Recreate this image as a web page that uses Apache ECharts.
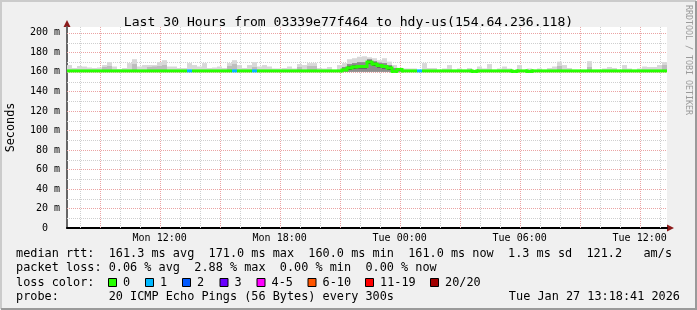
<!DOCTYPE html>
<html><head><meta charset="utf-8">
<script src="https://cdn.jsdelivr.net/npm/echarts@6/dist/echarts.min.js"></script>
<style>html,body{margin:0;padding:0;background:#f0f0f0;}#c{width:697px;height:310px;}</style>
</head><body><div id="c"></div>
<script>
// ---------- data ----------
const titleText = 'Last 30 Hours from 03339e77f464 to hdy-us(154.64.236.118)';
const startHour = 7 + 22 / 60;   // Mon 07:22 (hours since Mon 00:00)
const spanHours = 30;
const binHours = 0.25;           // one value per 15 minutes
const xTickHours = [12, 18, 24, 30, 36];
const xTickLabels = ['Mon 12:00', 'Mon 18:00', 'Tue 00:00', 'Tue 06:00', 'Tue 12:00'];
const yTickValues = [0, 20, 40, 60, 80, 100, 120, 140, 160, 180, 200];
const yTickLabels = ['0  ', '20 m', '40 m', '60 m', '80 m', '100 m', '120 m', '140 m', '160 m', '180 m', '200 m'];

// median rtt (ms), 120 bins
const median = [
  161,161,161,161,161,161,161,161,161,161,
  161,161,161,161,161,161,161,161,161,161,
  161,161,161,161,161,161,161,161,161,161,
  161,161,161,161,161,161,161,161,161,161,
  161,161,161,161,161,161,161,161,161,161,
  161,161,161,161,161,162,164,165,165.5,165.5,
  170,168,166.5,165.5,164,160.5,162.5,161,161,161,
  161,161,161,161,161,161,161,161,161,161,
  161,160.5,161,161,161,161,161,161,161,160.5,
  161,161,160.5,161,161,161,161,161,161,161,
  161,161,161,161,161,161,161,161,161,161,
  161,161,161,161,161,161,161,161,161,161
];
// lost pings (of 20) per bin
const loss = [
  0,0,0,0,0,0,0,0,0,0, 0,0,0,0,0,0,0,0,0,0,
  0,0,0,0,1,0,0,0,0,0, 0,0,0,1,0,0,0,1,0,0,
  0,0,0,0,0,0,0,0,0,0, 0,0,0,0,0,0,0,0,0,0,
  0,0,0,0,0,0,0,0,0,0, 1,0,0,0,0,0,0,0,0,0,
  0,0,0,0,0,0,0,0,0,0, 0,0,0,0,0,0,0,0,0,0,
  0,0,0,0,0,0,0,0,0,0, 0,0,0,0,0,0,0,0,0,0
];
// smoke: slowest ping per bin (ms)
const smokeHi = [
  167,164,166,165.5,164.5,164,164.5,167,170,165.5,
  163,164,169,173,165.5,167,167,167,170,172,
  165.5,165.5,164,164,169,167,165.5,169,164,164.5,
  165.5,164,169,172,167,164,167,170,165.5,167,
  165.5,163.5,163.5,164,165.5,163.5,168,167,169,169,
  164,163.5,165,162,167,169,173,174,175.5,176,
  175,174,172,174,170.5,167,164,163.5,163.5,163.5,
  162,169,164,164,162,163.5,167,162,163.5,162,
  164,162,165.5,163.5,168,162,163.5,165.5,163.5,162,
  167,162,163.5,162,163.5,162,164,165.5,170.5,167,
  164,162,161.5,161.5,171,162,162,163.5,165,164,
  162,167,163.5,162,163.5,165.5,165,165,167,170
];
// smoke: denser middle part of the pings (ms), null where not visible
const smokeMid = [
  null,null,null,null,null,null,null,165,166,null,
  null,null,null,168,null,null,165,165.5,166,167,
  null,null,null,null,null,null,null,null,null,null,
  null,null,166,168,null,null,null,165,null,null,
  null,null,null,null,null,null,165,null,166,166,
  null,null,null,null,null,null,null,null,null,null,
  null,null,null,null,null,null,null,null,null,null,
  null,null,null,null,null,null,null,null,null,null,
  null,null,null,null,null,null,null,null,null,null,
  null,null,null,null,null,null,null,null,166,null,
  null,null,null,null,165,null,null,null,null,null,
  null,null,null,null,null,null,null,null,null,167
];
// busy period (bins 55..66): dense smoke band and darkest core around the median (ms)
const busyBins = [55, 56, 57, 58, 59, 60, 61, 62, 63, 64, 65, 66];
const busyMid  = [165, 168, 169, 170, 170, 173, 171, 169.5, 169, 167, 164, 163];
const coreLo   = [161, 162, 163, 163.5, 163.5, 168, 166, 164.5, 163.5, 162, 160, 161];
const coreHi   = [163, 165.5, 166.5, 167, 167, 171.5, 169.5, 168, 167, 165.5, 162, 164];

const lossLabels = ['0', '1', '2', '3', '4-5', '6-10', '11-19', '20/20'];
const lossColors = ['#26ff00', '#00b8ff', '#0059ff', '#6a00ff', '#ff00ff', '#ff5500', '#ff0000', '#a10000'];
const statLines = [
  'median rtt:  161.3 ms avg  171.0 ms max  160.0 ms min  161.0 ms now  1.3 ms sd  121.2   am/s',
  'packet loss: 0.06 % avg  2.88 % max  0.00 % min  0.00 % now',
  'loss color:',
  'probe:       20 ICMP Echo Pings (56 Bytes) every 300s'
];
const stampText = 'Tue Jan 27 13:18:41 2026';
const sideText = 'RRDTOOL / TOBI OETIKER';

// ---------- chart ----------
const MONO = '"DejaVu Sans Mono", monospace';
const chart = echarts.init(document.getElementById('c'), null, {renderer: 'canvas'});

const binX = i => startHour + i * binHours;
const hiData = smokeHi.map((v, i) => [binX(i), 160, v]);
const midData = [];
smokeMid.forEach((v, i) => { if (v != null) midData.push([binX(i), 160, v]); });
const busyData = busyBins.map((b, k) => [binX(b), 160, busyMid[k]]);
const coreData = busyBins.map((b, k) => [binX(b), coreLo[k], coreHi[k]]);
const medData = median.map((v, i) => [binX(i), v, loss[i]]);

function rectRender(color) {
  return function (params, api) {
    const x = api.value(0), lo = api.value(1), hi = api.value(2);
    const p0 = api.coord([x, hi]);
    const p1 = api.coord([x + binHours, lo]);
    return {type: 'rect', shape: {x: p0[0], y: p0[1], width: p1[0] - p0[0], height: p1[1] - p0[1]},
            style: {fill: color}};
  };
}

// grid line positions (axis layout)
const vLines = [];
for (let h = Math.ceil(startHour); h <= startHour + spanHours; h++) vLines.push([h, 0, h % 3 === 0 ? 1 : 0]);
const hLines = [];
for (let v = 10; v <= 200; v += 10) hLines.push([startHour, v, v % 20 === 0 ? 1 : 0]);
const MINOR = '#cfcfcf', MAJOR = '#eba3a3';

const option = {
  backgroundColor: '#f0f0f0',
  animation: false,
  title: {
    text: titleText, left: 'center', top: 11,
    textStyle: {fontFamily: MONO, fontSize: 13.1, fontWeight: 'normal', color: '#000'}
  },
  grid: {left: 67, right: 30, top: 27, bottom: 82, containLabel: false, outerBoundsMode: 'none',
         show: true, backgroundColor: '#ffffff', borderWidth: 0},
  xAxis: {
    type: 'value', min: startHour, max: startHour + spanHours,
    axisLine: {show: true, onZero: false, lineStyle: {color: '#000', width: 2}},
    axisTick: {show: false},
    splitLine: {show: false},
    axisLabel: {
      customValues: xTickHours,
      formatter: v => xTickLabels[xTickHours.indexOf(v)],
      margin: 5, fontFamily: MONO, fontSize: 10, color: '#000',
      showMinLabel: true, showMaxLabel: true
    }
  },
  yAxis: {
    type: 'value', min: 0, max: 206,
    name: 'Seconds', nameLocation: 'middle', nameGap: 50,
    nameTextStyle: {fontFamily: MONO, fontSize: 11.8, color: '#000'},
    axisLine: {show: true, lineStyle: {color: '#666', width: 2}},
    axisTick: {show: false},
    splitLine: {show: false},
    axisLabel: {
      customValues: yTickValues,
      formatter: v => yTickLabels[yTickValues.indexOf(v)],
      margin: 7, fontFamily: MONO, fontSize: 10, color: '#000'
    }
  },
  series: [
    { // grid: vertical
      type: 'custom', silent: true, z: 1, data: vLines,
      renderItem: (params, api) => {
        const cs = params.coordSys;
        const x = Math.round(api.coord([api.value(0), 0])[0]) + 0.5;
        return {type: 'line', shape: {x1: x, y1: cs.y, x2: x, y2: cs.y + cs.height},
                style: {stroke: api.value(2) ? MAJOR : MINOR, lineWidth: 1, lineDash: [1, 1]}};
      }
    },
    { // grid: horizontal
      type: 'custom', silent: true, z: 1, data: hLines,
      renderItem: (params, api) => {
        const cs = params.coordSys;
        const y = Math.round(api.coord([startHour, api.value(1)])[1]) + 0.5;
        return {type: 'line', shape: {x1: cs.x, y1: y, x2: cs.x + cs.width, y2: y},
                style: {stroke: api.value(2) ? MAJOR : MINOR, lineWidth: 1, lineDash: [1, 1]}};
      }
    },
    {type: 'custom', silent: true, z: 2, data: hiData, renderItem: rectRender('#d8d8d8')},
    {type: 'custom', silent: true, z: 3, data: midData, renderItem: rectRender('#bdbdbd')},
    {type: 'custom', silent: true, z: 3, data: busyData, renderItem: rectRender('#8c8c8c')},
    {type: 'custom', silent: true, z: 4, data: coreData, renderItem: rectRender('#383838')},
    { // median line coloured by loss
      type: 'custom', silent: true, z: 5, data: medData,
      renderItem: (params, api) => {
        const i = params.dataIndex;
        const x = api.value(0), m = api.value(1), l = api.value(2);
        const a = api.coord([x, m]), b = api.coord([x + binHours, m]);
        const col = lossColors[l];
        const kids = [{type: 'rect', shape: {x: a[0], y: a[1] - 1.5, width: b[0] - a[0], height: 3}, style: {fill: col}}];
        if (i + 1 < median.length && median[i + 1] !== m) {
          const c = api.coord([x + binHours, median[i + 1]]);
          const top = Math.min(b[1], c[1]) - 1.5, h = Math.abs(c[1] - b[1]) + 3;
          kids.push({type: 'rect', shape: {x: b[0] - 1.5, y: top, width: 3, height: h}, style: {fill: col}});
        }
        return {type: 'group', children: kids};
      }
    }
  ],
  graphic: []
};

// decorations: border, arrows, side text, legend
const g = option.graphic;
g.push({type: 'polyline', silent: true, shape: {points: [[1, 309], [1, 1], [696, 1]]}, style: {stroke: '#cbcbcb', lineWidth: 2, fill: null}});
g.push({type: 'polyline', silent: true, shape: {points: [[1, 309], [696, 309], [696, 1]]}, style: {stroke: '#9a9a9a', lineWidth: 2, fill: null}});
g.push({type: 'polygon', silent: true, shape: {points: [[67, 20], [63.5, 27], [70.5, 27]]}, style: {fill: '#8b1a1a'}});
g.push({type: 'polygon', silent: true, shape: {points: [[674, 228], [667, 224.5], [667, 231.5]]}, style: {fill: '#8b1a1a'}});
g.push({type: 'text', silent: true, x: 688, y: 5, rotation: -Math.PI / 2,
  style: {text: sideText, font: '8.3px ' + MONO, fill: '#9a9a9a', textAlign: 'left', textVerticalAlign: 'middle', align: 'left', verticalAlign: 'middle'}});

const LEG_FONT = '11.85px ' + MONO;
const lineY = [254, 268, 282.5, 297];
statLines.forEach((t, k) => {
  g.push({type: 'text', silent: true, x: 16, y: lineY[k],
    style: {text: t, font: LEG_FONT, fill: '#000', textAlign: 'left', textVerticalAlign: 'middle', align: 'left', verticalAlign: 'middle'}});
});
g.push({type: 'text', silent: true, x: 680, y: lineY[3],
  style: {text: stampText, font: LEG_FONT, fill: '#000', textAlign: 'right', textVerticalAlign: 'middle', align: 'right', verticalAlign: 'middle'}});
const boxX = [108, 145, 182, 219.5, 256.5, 307.5, 365, 430];
lossLabels.forEach((lab, k) => {
  g.push({type: 'rect', silent: true, shape: {x: boxX[k] + 0.5, y: lineY[2] - 4, width: 8, height: 8},
    style: {fill: lossColors[k], stroke: '#000', lineWidth: 1}});
  g.push({type: 'text', silent: true, x: boxX[k] + 15, y: lineY[2],
    style: {text: lab, font: LEG_FONT, fill: '#000', textAlign: 'left', textVerticalAlign: 'middle', align: 'left', verticalAlign: 'middle'}});
});

chart.setOption(option);
</script>
</body></html>
